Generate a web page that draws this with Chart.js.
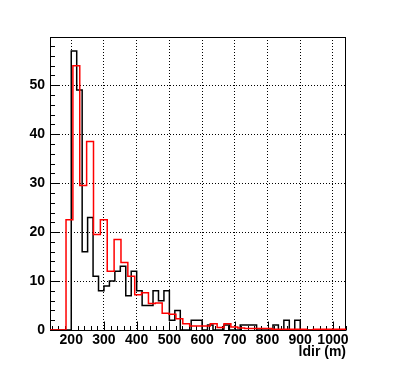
<!DOCTYPE html>
<html><head><meta charset="utf-8">
<script src="https://cdn.jsdelivr.net/npm/chart.js@4/dist/chart.umd.min.js"></script>
<style>html,body{margin:0;padding:0;background:#fff;overflow:hidden}#wrap{width:396px;height:373px;position:relative}</style>
</head><body><div id="wrap"><canvas id="c" width="396" height="373"></canvas></div>
<script>
// ---- data ----
const xTickLabels = [200, 300, 400, 500, 600, 700, 800, 900, 1000];
const yTickLabels = [0, 10, 20, 30, 40, 50];
const xTitle = 'ldir (m)';

// black histogram: bins of width 50/3 starting at 100
const blackLow = 100;
const blackWidth = 50 / 3;
const blackCounts = [0, 0, 0, 0, 0, 0,
  57, 49, 16, 23, 11, 8, 9, 10, 12, 13, 7, 12, 8, 5, 5, 8, 6, 8, 2, 4, 0, 0, 2, 2,
  0, 1, 0, 0, 1, 0, 0, 1, 1, 1, 0, 0, 0, 1, 0, 2, 0, 2,
  0, 0, 0, 0, 0, 0, 0, 0, 0];

// red histogram: bins of width 21 starting at 100
const redLow = 100;
const redWidth = 21;
const redCounts = [0, 0, 0, 0,
  22.5, 54, 29.5, 38.5, 19.5, 22.5, 12, 18.5, 13.8, 11, 7.2, 7.6, 5.4, 5.5, 3.4, 3.2,
  2.3, 1.3, 0.8, 0.8, 0.8, 1.3, 0.5, 1.3, 0.6, 0.4, 0.3, 0.3, 0.3, 0.3,
  0.15, 0.15, 0.15, 0.15, 0.15, 0, 0.15, 0.15, 0.15, 0.15, 0.15];

// ---- build step outlines from bins ----
function histPoints(low, width, counts) {
  const pts = counts.map((c, i) => ({x: low + i * width, y: c}));
  pts.push({x: low + counts.length * width, y: counts[counts.length - 1]});
  return pts;
}

const FONT = 'Liberation Sans, Arial, Helvetica, sans-serif';

const frameTicks = {
  id: 'frameTicks',
  beforeDatasetsDraw(chart) {
    const {ctx, chartArea: a, scales: {x, y}} = chart;
    ctx.save();
    ctx.strokeStyle = '#000';
    ctx.lineWidth = 1;
    const L = Math.round(a.left) + 0.5, R = Math.round(a.right) - 0.5;
    const T = Math.round(a.top) + 0.5, B = Math.round(a.bottom) + 0.5;
    ctx.strokeRect(L, T, R - L, B - T);
    ctx.beginPath();
    for (let v = 140; v <= x.max; v += 20) {
      const px = Math.round(x.getPixelForValue(v)) + 0.5;
      const len = (v % 100 === 0) ? 9 : 4.5;
      ctx.moveTo(px, B); ctx.lineTo(px, B - len);
    }
    for (let v = 0; v <= y.max; v += 2) {
      const py = Math.round(y.getPixelForValue(v)) + 0.5;
      const len = (v % 10 === 0) ? 9 : 4.5;
      ctx.moveTo(L, py); ctx.lineTo(L + len, py);
    }
    ctx.stroke();
    ctx.restore();
  }
};

new Chart(document.getElementById('c'), {
  type: 'line',
  data: {
    datasets: [
      {label: 'red', data: histPoints(redLow, redWidth, redCounts), borderColor: '#ff0000',
       borderWidth: 1.5, stepped: 'before', pointRadius: 0, fill: false, tension: 0},
      {label: 'black', data: histPoints(blackLow, blackWidth, blackCounts), borderColor: '#000000',
       borderWidth: 1.5, stepped: 'before', pointRadius: 0, fill: false, tension: 0}
    ]
  },
  options: {
    responsive: false,
    devicePixelRatio: 1,
    animation: false,
    layout: {padding: {top: 37, right: 50, left: 0, bottom: 0}},
    plugins: {legend: {display: false}, tooltip: {enabled: false}},
    scales: {
      x: {
        type: 'linear', min: 135, max: 1040,
        afterBuildTicks: s => { s.ticks = xTickLabels.map(v => ({value: v})); },
        afterFit: s => { s.height = 43; },
        ticks: {autoSkip: false, maxRotation: 0, minRotation: 0, padding: 3, color: '#000',
                font: {family: FONT, weight: 'bold', size: 14, lineHeight: 1},
                callback: v => String(v)},
        grid: {color: '#000', lineWidth: 1, drawTicks: false},
        border: {display: false, dash: [1, 2]},
        title: {display: true, text: xTitle, align: 'end', color: '#000',
                font: {family: FONT, weight: 'bold', size: 14, lineHeight: 1},
                padding: {top: 0, bottom: 14}}
      },
      y: {
        min: 0, max: 59.85,
        afterBuildTicks: s => { s.ticks = yTickLabels.map(v => ({value: v})); },
        afterFit: s => { s.width = 50; },
        ticks: {padding: 5, color: '#000',
                font: {family: FONT, weight: 'bold', size: 14, lineHeight: 1},
                callback: v => String(v)},
        grid: {color: '#000', lineWidth: 1, drawTicks: false},
        border: {display: false, dash: [1, 2]}
      }
    }
  },
  plugins: [frameTicks]
});
</script></body></html>
